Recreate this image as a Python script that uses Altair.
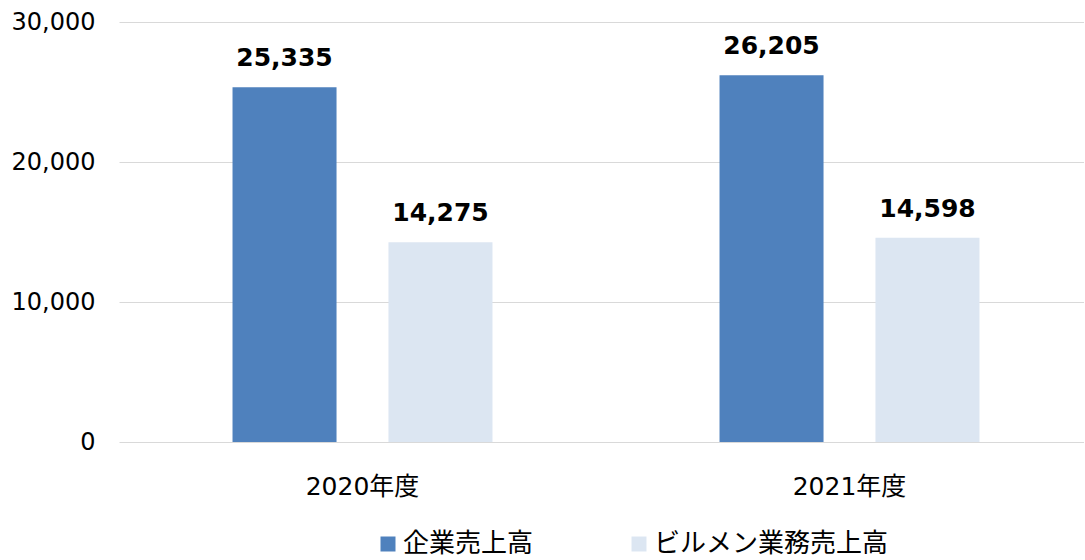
import altair as alt
import pandas as pd

years = ["2020年度", "2021年度"]
series = ["企業売上高", "ビルメン業務売上高"]
corp_sales = [25335, 26205]
bldg_sales = [14275, 14598]
colors = ["#4f81bd", "#dce6f2"]
y_ticks = [0, 10000, 20000, 30000]

rows = []
for i, yr in enumerate(years):
    rows.append({"year": yr, "series": series[0], "value": corp_sales[i]})
    rows.append({"year": yr, "series": series[1], "value": bldg_sales[i]})
df = pd.DataFrame(rows)

x_enc = alt.X(
    "year:N",
    sort=years,
    scale=alt.Scale(range=[0, 974], paddingInner=0, paddingOuter=0),
    axis=alt.Axis(
        title=None, labelAngle=0, ticks=False, tickSize=0, domain=False,
        grid=False,
        labelFont="DejaVu Sans, Noto Sans CJK JP", labelFontSize=25,
        labelColor="#000000", labelPadding=32, labelBaseline="top",
    ),
)
xo_enc = alt.XOffset(
    "series:N", sort=series,
    scale=alt.Scale(domain=series, paddingInner=0.333, paddingOuter=0.728),
)
y_enc = alt.Y(
    "value:Q",
    scale=alt.Scale(domain=[0, 30000], nice=False),
    axis=alt.Axis(
        title=None, values=y_ticks, format=",.0f", ticks=False, tickSize=0,
        domain=False, gridColor="#d9d9d9", gridWidth=1.2,
        labelFont="DejaVu Sans", labelFontSize=24, labelColor="#000000",
        labelPadding=24,
    ),
)

bars = alt.Chart(df).mark_bar().encode(
    x=x_enc,
    xOffset=xo_enc,
    y=y_enc,
    color=alt.Color(
        "series:N", sort=series,
        scale=alt.Scale(domain=series, range=colors),
        legend=alt.Legend(
            title=None, orient="none", direction="horizontal",
            legendX=256, legendY=509, symbolType="square", symbolSize=225,
            symbolStrokeWidth=0, labelFont="Noto Sans CJK JP", labelFontSize=26,
            labelColor="#000000", labelOffset=2, columnPadding=92, padding=0,
            labelLimit=400,
        ),
    ),
)

labels = alt.Chart(df).mark_text(
    baseline="alphabetic", dy=-21, font="DejaVu Sans", fontWeight="bold",
    fontSize=25, color="#000000",
).encode(
    x=alt.X("year:N", sort=years),
    xOffset=alt.XOffset("series:N", sort=series),
    y=alt.Y("value:Q"),
    text=alt.Text("value:Q", format=",.0f"),
)

chart = (
    alt.layer(bars, labels)
    .properties(
        width=964, height=420,
        background="#ffffff",
        autosize=alt.AutoSizeParams(type="none"),
        padding={"left": 119, "top": 22, "right": 1, "bottom": 118},
    )
    .configure_view(strokeWidth=0, stroke="transparent")
)

chart.save("out.html", embed_options={"renderer": "svg", "actions": False})
